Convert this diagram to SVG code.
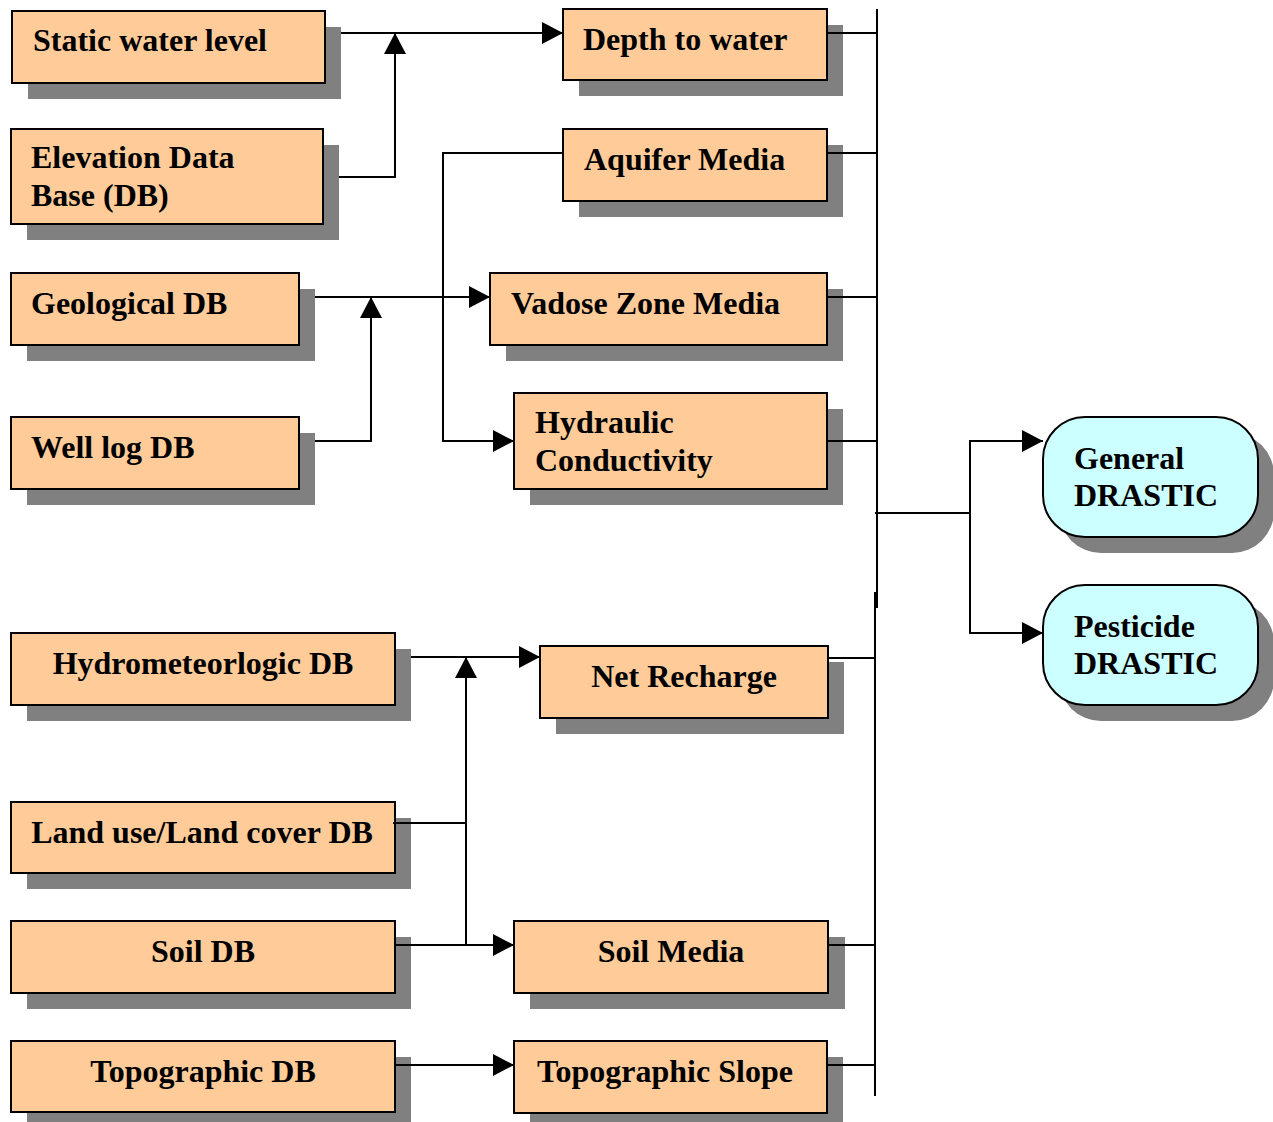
<svg xmlns="http://www.w3.org/2000/svg" width="1273" height="1122" viewBox="0 0 1273 1122">
<style>
.sh{fill:#808080;}
.bx{fill:#FFCC99;stroke:#000;stroke-width:2;}
.rb{fill:#CCFFFF;stroke:#000;stroke-width:2;}
.t{font-family:"Liberation Serif","Times New Roman",serif;font-weight:bold;font-size:32px;fill:#000;}
.c{text-anchor:middle;}
.ln{fill:none;stroke:#000;stroke-width:2;}
</style>
<defs>
<marker id="ah" markerUnits="userSpaceOnUse" markerWidth="22" markerHeight="24" refX="21" refY="11" orient="auto">
<path d="M0,0 L21,11 L0,22 z" fill="#000"/>
</marker>
</defs>
<rect width="1273" height="1122" fill="#fff"/>
<g id="static"><rect class="sh" x="28" y="27" width="313" height="72"/><rect class="bx" x="12" y="11" width="313" height="72"/><text class="t" x="33" y="51">Static water level</text></g>
<g id="elevation"><rect class="sh" x="27" y="145" width="312" height="95"/><rect class="bx" x="11" y="129" width="312" height="95"/><text class="t" x="31" y="168">Elevation Data</text><text class="t" x="31" y="206">Base (DB)</text></g>
<g id="geological"><rect class="sh" x="27" y="289" width="288" height="72"/><rect class="bx" x="11" y="273" width="288" height="72"/><text class="t" x="31" y="314">Geological DB</text></g>
<g id="welllog"><rect class="sh" x="27" y="433" width="288" height="72"/><rect class="bx" x="11" y="417" width="288" height="72"/><text class="t" x="31" y="458">Well log DB</text></g>
<g id="hydromet"><rect class="sh" x="27" y="649" width="384" height="72"/><rect class="bx" x="11" y="633" width="384" height="72"/><text class="t c" x="203" y="674">Hydrometeorlogic DB</text></g>
<g id="landuse"><rect class="sh" x="27" y="818" width="384" height="71"/><rect class="bx" x="11" y="802" width="384" height="71"/><text class="t c" x="202" y="843">Land use/Land cover DB</text></g>
<g id="soildb"><rect class="sh" x="27" y="937" width="384" height="72"/><rect class="bx" x="11" y="921" width="384" height="72"/><text class="t c" x="203" y="962">Soil DB</text></g>
<g id="topodb"><rect class="sh" x="27" y="1057" width="384" height="71"/><rect class="bx" x="11" y="1041" width="384" height="71"/><text class="t c" x="203" y="1082">Topographic DB</text></g>
<g id="depth"><rect class="sh" x="579" y="25" width="264" height="71"/><rect class="bx" x="563" y="9" width="264" height="71"/><text class="t" x="583" y="50">Depth to water</text></g>
<g id="aquifer"><rect class="sh" x="579" y="145" width="264" height="72"/><rect class="bx" x="563" y="129" width="264" height="72"/><text class="t" x="584" y="170">Aquifer Media</text></g>
<g id="vadose"><rect class="sh" x="506" y="289" width="337" height="72"/><rect class="bx" x="490" y="273" width="337" height="72"/><text class="t" x="511" y="314">Vadose Zone Media</text></g>
<g id="hydraulic"><rect class="sh" x="530" y="409" width="313" height="96"/><rect class="bx" x="514" y="393" width="313" height="96"/><text class="t" x="535" y="433">Hydraulic</text><text class="t" x="535" y="471">Conductivity</text></g>
<g id="netrecharge"><rect class="sh" x="556" y="662" width="288" height="72"/><rect class="bx" x="540" y="646" width="288" height="72"/><text class="t c" x="684" y="687">Net Recharge</text></g>
<g id="soilmedia"><rect class="sh" x="530" y="937" width="315" height="72"/><rect class="bx" x="514" y="921" width="314" height="72"/><text class="t c" x="671" y="962">Soil Media</text></g>
<g id="topislope"><rect class="sh" x="530" y="1057" width="313" height="72"/><rect class="bx" x="514" y="1041" width="313" height="72"/><text class="t c" x="665" y="1082">Topographic Slope</text></g>
<g id="general"><rect class="sh" x="1059" y="433" width="215" height="120" rx="42"/><rect class="rb" x="1043" y="417" width="215" height="120" rx="42"/><text class="t" x="1074" y="469">General</text><text class="t" x="1074" y="506">DRASTIC</text></g>
<g id="pesticide"><rect class="sh" x="1059" y="601" width="215" height="120" rx="42"/><rect class="rb" x="1043" y="585" width="215" height="120" rx="42"/><text class="t" x="1074" y="637">Pesticide</text><text class="t" x="1074" y="674">DRASTIC</text></g>
<g id="connectors">
<path class="ln" d="M341,33 H563" marker-end="url(#ah)"/>
<path class="ln" d="M339,177 H395 V33" marker-end="url(#ah)"/>
<path class="ln" d="M563,153 H443 V441 H514" marker-end="url(#ah)"/>
<path class="ln" d="M315,297 H490" marker-end="url(#ah)"/>
<path class="ln" d="M315,441 H371 V297" marker-end="url(#ah)"/>
<path class="ln" d="M411,657 H540" marker-end="url(#ah)"/>
<path class="ln" d="M393,823 H466"/>
<path class="ln" d="M395,945 H514" marker-end="url(#ah)"/>
<path class="ln" d="M466,945 V657" marker-end="url(#ah)"/>
<path class="ln" d="M395,1065 H514" marker-end="url(#ah)"/>
<path class="ln" d="M877,9 V608"/>
<path class="ln" d="M875,592 V1096"/>
<path class="ln" d="M827,33 H877 M827,153 H877 M827,297 H877 M827,441 H877 M828,658 H875 M828,945 H875 M827,1065 H875"/>
<path class="ln" d="M875,513 H970"/>
<path class="ln" d="M970,441 H1043" marker-end="url(#ah)"/>
<path class="ln" d="M970,440 V633 H1043" marker-end="url(#ah)"/>
</g>
</svg>
